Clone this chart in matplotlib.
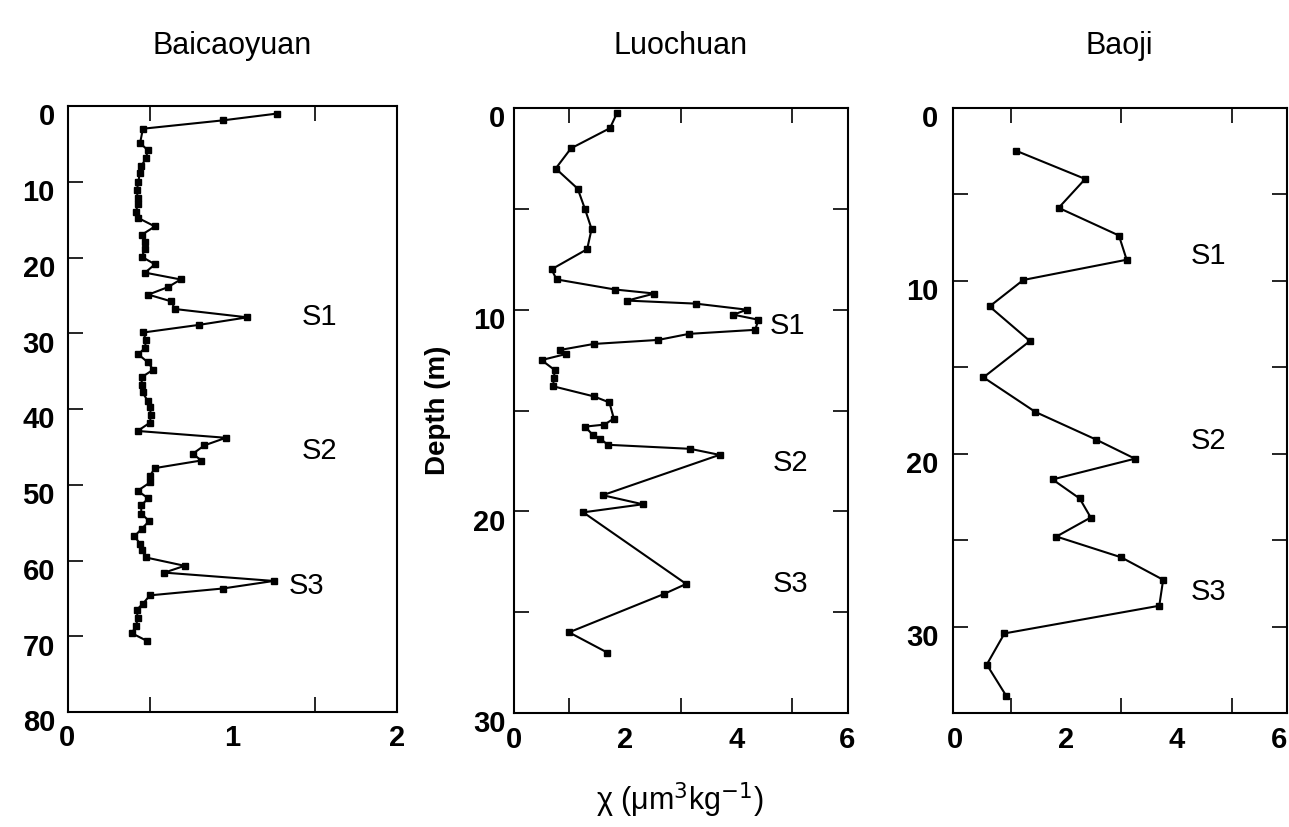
import matplotlib
matplotlib.use("Agg")
import matplotlib.pyplot as plt
from matplotlib.transforms import ScaledTranslation

plt.rcParams['font.family'] = ['Liberation Sans', 'DejaVu Sans']

# ---- data ----
titles = ["Baicaoyuan", "Luochuan", "Baoji"]

bcy_depth = [1.0, 1.9, 3.0, 4.9, 5.8, 6.9, 7.9, 8.9, 10.0, 11.1, 12.1, 13.0, 14.0, 14.8,
             15.9, 17.0, 17.9, 18.9, 19.9, 20.9, 22.0, 22.9, 23.9, 24.9, 25.8, 26.8, 27.9,
             28.9, 29.9, 30.9, 31.9, 32.8, 33.8, 34.8, 35.8, 36.8, 37.8, 38.9, 39.8, 40.8,
             41.8, 42.9, 43.8, 44.8, 45.9, 46.8, 47.8, 48.8, 49.7, 50.8, 51.8, 52.7, 53.8,
             54.8, 55.8, 56.8, 57.8, 58.6, 59.6, 60.7, 61.6, 62.7, 63.7, 64.6, 65.7, 66.5,
             67.6, 68.6, 69.6, 70.6]
bcy_chi = [1.27, 0.94, 0.457, 0.44, 0.485, 0.477, 0.447, 0.437, 0.43, 0.42, 0.425, 0.425,
           0.415, 0.43, 0.53, 0.45, 0.47, 0.47, 0.45, 0.53, 0.47, 0.686, 0.61, 0.49, 0.63,
           0.65, 1.09, 0.795, 0.46, 0.475, 0.47, 0.43, 0.485, 0.52, 0.45, 0.45, 0.455,
           0.485, 0.50, 0.505, 0.50, 0.425, 0.96, 0.83, 0.76, 0.81, 0.53, 0.50, 0.50,
           0.425, 0.49, 0.447, 0.447, 0.495, 0.45, 0.406, 0.44, 0.45, 0.475, 0.71, 0.587,
           1.25, 0.94, 0.50, 0.457, 0.42, 0.425, 0.416, 0.39, 0.48]

lc_depth = [0.23, 1.0, 2.0, 3.0, 4.0, 5.0, 6.0, 7.0, 8.0, 8.5, 9.0, 9.2, 9.55, 9.7, 10.0,
            10.25, 10.5, 11.0, 11.2, 11.5, 11.7, 12.0, 12.2, 12.5, 13.0, 13.4, 13.8, 14.3,
            14.6, 15.4, 15.7, 15.8, 16.2, 16.4, 16.7, 16.9, 17.2, 19.2, 19.65, 20.05, 23.6,
            24.1, 26.0, 27.0]
lc_chi = [1.86, 1.73, 1.03, 0.755, 1.15, 1.28, 1.40, 1.32, 0.68, 0.77, 1.82, 2.53, 2.04,
          3.27, 4.19, 3.95, 4.40, 4.34, 3.15, 2.6, 1.44, 0.83, 0.94, 0.50, 0.74, 0.72, 0.71,
          1.44, 1.72, 1.80, 1.63, 1.28, 1.42, 1.56, 1.69, 3.17, 3.70, 1.60, 2.32, 1.25,
          3.10, 2.70, 0.995, 1.68]

bj_depth = [2.5, 4.13, 5.8, 7.4, 8.8, 9.97, 11.5, 13.5, 15.6, 17.6, 19.2, 20.3, 21.5, 22.6,
            23.7, 24.8, 26.0, 27.3, 28.8, 30.4, 32.2, 34.0]
bj_chi = [1.10, 2.35, 1.87, 2.96, 3.10, 1.23, 0.62, 1.35, 0.51, 1.45, 2.55, 3.25, 1.76,
          2.25, 2.45, 1.83, 3.00, 3.76, 3.69, 0.89, 0.57, 0.92]

soil_labels = ["S1", "S2", "S3"]
bcy_label_pos = [(1.42, 27.9), (1.42, 45.5), (1.34, 63.4)]
lc_label_pos = [(4.6, 10.8), (4.65, 17.6), (4.65, 23.6)]
bj_label_pos = [(4.25, 8.6), (4.25, 19.3), (4.25, 28.0)]

bcy_yticks = [0, 10, 20, 30, 40, 50, 60, 70, 80]
lc_yticks = [0, 10, 20, 30]
bj_yticks = [0, 10, 20, 30]

# ---- figure ----
fig = plt.figure(figsize=(12.89, 8.27), dpi=100)
W, H = 1289, 827

def add_ax(l, r, t, b):
    return fig.add_axes([l / W, 1 - b / H, (r - l) / W, (b - t) / H])

ax1 = add_ax(67.5, 397.5, 106, 712)
ax2 = add_ax(513.7, 847.5, 108, 713)
ax3 = add_ax(952.5, 1287, 107.5, 713)

panels = [
    (ax1, bcy_chi, bcy_depth, bcy_label_pos, (0, 2), (80, 0), bcy_yticks,
     [0.5, 1, 1.5], [0, 1, 2], 10, 9),
    (ax2, lc_chi, lc_depth, lc_label_pos, (0, 6), (30, 0), lc_yticks,
     [1, 2, 3, 4, 5], [0, 2, 4, 6], 5, 6),
    (ax3, bj_chi, bj_depth, bj_label_pos, (-0.05, 6), (35, 0), bj_yticks,
     [1, 2, 3, 4, 5], [0, 2, 4, 6], 5, 10),
]

for i, (ax, chi, depth, lpos, xl, yl, yt, xtick_marks, xlabs, ystep, ypad) in enumerate(panels):
    ax.plot(chi, depth, color='black', lw=1.5, marker='s', ms=5,
            mfc='black', mec='black')
    ax.set_xlim(*xl)
    ax.set_ylim(*yl)
    ax.set_xticks(xtick_marks, minor=True)
    ax.set_xticks(xlabs)
    ax.tick_params(axis='x', which='major', direction='in', length=0, top=False,
                   labelsize=21, pad=9)
    ax.tick_params(axis='x', which='minor', direction='in', length=11, width=1.2,
                   top=True, bottom=True)
    ymarks = list(range(0, int(yl[0]) + 1, ystep))
    ax.set_yticks(ymarks, minor=True)
    ax.set_yticks(yt)
    ax.set_yticklabels([str(v) for v in yt])
    ax.tick_params(axis='y', which='major', direction='in', length=11, width=1.2,
                   left=True, right=(i > 0), labelsize=21, pad=ypad)
    ax.tick_params(axis='y', which='minor', direction='in', length=11, width=1.2,
                   left=True, right=(i > 0))
    for lab in ax.get_xticklabels() + ax.get_yticklabels():
        lab.set_fontweight('bold')
    for lab in ax.get_yticklabels():
        lab.set_transform(lab.get_transform() +
                          ScaledTranslation(0, -6 / 72, fig.dpi_scale_trans))
    if i == 2:
        last = ax.get_xticklabels()[-1]
        last.set_transform(last.get_transform() +
                           ScaledTranslation(-6 / 72, 0, fig.dpi_scale_trans))
    for s in ax.spines.values():
        s.set_linewidth(1.5)
    for txt, (x, y) in zip(soil_labels, lpos):
        ax.text(x, y, txt, fontsize=21, ha='left', va='center')
    fig.text((ax.get_position().x0 + ax.get_position().x1) / 2, 1 - 46 / H,
             titles[i], fontsize=22, ha='center', va='center')

ax2.set_ylabel("Depth (m)", fontsize=20, fontweight='bold', labelpad=16)
fig.text(680 / W, 1 - 800 / H, r"χ (μm$^{3}$kg$^{-1}$)", fontsize=22,
         ha='center', va='center')

fig.savefig("out.png", dpi=100)
